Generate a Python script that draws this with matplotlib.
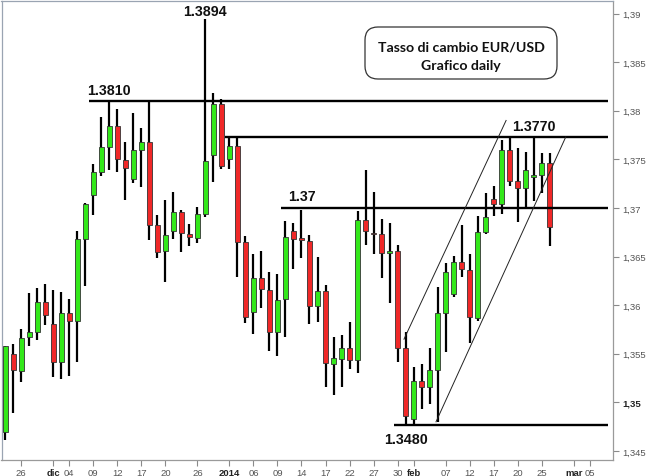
import matplotlib
matplotlib.use('Agg')
import matplotlib.pyplot as plt
import numpy as np
import pandas as pd
from matplotlib.patches import FancyBboxPatch
from matplotlib.transforms import IdentityTransform

# ---------------- data ----------------
dates = pd.bdate_range('2013-11-22', '2014-02-26')  # trading days (weekdays)

opens = [1.3470, 1.3550, 1.3532, 1.3567, 1.3572, 1.3603, 1.3581, 1.3542, 1.3592, 1.3584,
         1.3668, 1.3713, 1.3737, 1.3763, 1.3784, 1.3749, 1.3730, 1.3760, 1.3768, 1.3682,
         1.3656, 1.3676, 1.3696, 1.3673, 1.3669, 1.3694, 1.3754, 1.3807, 1.3750, 1.3764,
         1.3665, 1.3593, 1.3628, 1.3616, 1.3572, 1.3606, 1.3676, 1.3669, 1.3666, 1.3599,
         1.3615, 1.3539, 1.3545, 1.3556, 1.3544, 1.3688, 1.3674, 1.3673, 1.3654, 1.3656,
         1.3556, 1.3483, 1.3522, 1.3516, 1.3533, 1.3592, 1.3611, 1.3644, 1.3636, 1.3587,
         1.3675, 1.3709, 1.3704, 1.3760, 1.3728, 1.3721, 1.3732, 1.3734, 1.3746]
highs = [1.3558, 1.3560, 1.3575, 1.3612, 1.3618, 1.3622, 1.3616, 1.3614, 1.3606, 1.3676,
         1.3705, 1.3745, 1.3794, 1.3809, 1.3802, 1.3768, 1.3798, 1.3782, 1.3811, 1.3693,
         1.3708, 1.3716, 1.3698, 1.3683, 1.3701, 1.3894, 1.3818, 1.3812, 1.3773, 1.3773,
         1.3671, 1.3653, 1.3656, 1.3634, 1.3632, 1.3687, 1.3685, 1.3698, 1.3672, 1.3650,
         1.3621, 1.3567, 1.3569, 1.3583, 1.3697, 1.3739, 1.3716, 1.3689, 1.3685, 1.3662,
         1.3572, 1.3536, 1.3539, 1.3556, 1.3619, 1.3643, 1.3651, 1.3682, 1.3653, 1.3692,
         1.3715, 1.3723, 1.3770, 1.3773, 1.3762, 1.3758, 1.3773, 1.3757, 1.3757]
lows = [1.3461, 1.3489, 1.3521, 1.3558, 1.3564, 1.3580, 1.3526, 1.3524, 1.3527, 1.3542,
        1.3620, 1.3693, 1.3733, 1.3739, 1.3737, 1.3708, 1.3726, 1.3722, 1.3667, 1.3649,
        1.3624, 1.3668, 1.3655, 1.3661, 1.3664, 1.3691, 1.3727, 1.3740, 1.3740, 1.3629,
        1.3582, 1.3570, 1.3597, 1.3553, 1.3548, 1.3567, 1.3637, 1.3648, 1.3581, 1.3583,
        1.3516, 1.3508, 1.3516, 1.3534, 1.3530, 1.3662, 1.3653, 1.3628, 1.3602, 1.3542,
        1.3478, 1.3478, 1.3493, 1.3498, 1.3480, 1.3552, 1.3608, 1.3629, 1.3561, 1.3584,
        1.3673, 1.3692, 1.3694, 1.3723, 1.3686, 1.3701, 1.3707, 1.3715, 1.3661]
closes = [1.3558, 1.3533, 1.3566, 1.3572, 1.3603, 1.3590, 1.3542, 1.3592, 1.3584, 1.3668,
          1.3704, 1.3737, 1.3763, 1.3784, 1.3750, 1.3741, 1.3760, 1.3768, 1.3682, 1.3655,
          1.3672, 1.3696, 1.3674, 1.3670, 1.3694, 1.3748, 1.3807, 1.3743, 1.3764, 1.3665,
          1.3588, 1.3628, 1.3617, 1.3572, 1.3605, 1.3670, 1.3668, 1.3667, 1.3599, 1.3615,
          1.3541, 1.3546, 1.3556, 1.3544, 1.3688, 1.3676, 1.3673, 1.3654, 1.3656, 1.3556,
          1.3486, 1.3522, 1.3516, 1.3533, 1.3592, 1.3634, 1.3644, 1.3637, 1.3588, 1.3675,
          1.3691, 1.3704, 1.3760, 1.3728, 1.3721, 1.3739, 1.3734, 1.3746, 1.3680]

# x-axis tick dates and labels (Italian)
tick_dates = ['2013-11-26', '2013-12-02', '2013-12-04', '2013-12-09', '2013-12-12',
              '2013-12-17', '2013-12-20', '2013-12-26', '2014-01-01', '2014-01-06',
              '2014-01-09', '2014-01-14', '2014-01-17', '2014-01-22', '2014-01-27',
              '2014-01-30', '2014-02-03', '2014-02-07', '2014-02-12', '2014-02-17',
              '2014-02-20', '2014-02-25', '2014-03-03', '2014-03-05']
tick_labels = ['26', 'dic', '04', '09', '12', '17', '20', '26', '2014', '06', '09', '14',
               '17', '22', '27', '30', 'feb', '07', '12', '17', '20', '25', 'mar', '05']
bold_labels = ['dic', '2014', 'feb', 'mar']

y_ticks = [1.345, 1.35, 1.355, 1.36, 1.365, 1.37, 1.375, 1.38, 1.385, 1.39]

# support / resistance levels and the day each line starts
levels = [1.3810, 1.3773, 1.3700, 1.3477]
level_start = ['2013-12-09', '2014-01-01', '2014-01-10', '2014-01-30']
# trend channel lines: (date, fraction of day, price)
channel_upper = [('2014-01-30', 0.8, 1.3565), ('2014-02-18', 0.55, 1.3790)]
channel_lower = [('2014-02-05', 0.8, 1.3480), ('2014-02-28', 0.0, 1.3773)]

# annotations: (text, date, price)
notes = [('1.3894', '2013-12-27', 1.3903), ('1.3810', '2013-12-11', 1.3821),
         ('1.37', '2014-01-14', 1.3712), ('1.3770', '2014-02-24', 1.3784),
         ('1.3480', '2014-01-31', 1.3462)]

# ---------------- helpers ----------------
all_days = pd.bdate_range('2013-11-22', '2014-03-14')
def xpos(d):
    return float(all_days.get_loc(pd.Timestamp(d)))

x = np.arange(len(dates))

# ---------------- figure ----------------
W, H = 650, 477
fig = plt.figure(figsize=(W / 100, H / 100), dpi=100)
fig.patch.set_facecolor('white')
ax = fig.add_axes([1.5 / W, 16 / H, 611.5 / W, 459.5 / H])
ax.set_facecolor('white')

green = '#33E81A'
red = '#F02828'
for i in range(len(x)):
    o, h, l, c = opens[i], highs[i], lows[i], closes[i]
    ax.vlines(x[i], l, h, color='black', lw=1.6, zorder=2)
    col = green if c >= o else red
    ax.bar(x[i], abs(c - o), bottom=min(o, c), width=0.64, color=col,
           edgecolor='#333333', linewidth=0.6, zorder=3)

xmax = 75.3
for lv, st in zip(levels, level_start):
    ax.hlines(lv, xpos(st) - 0.5, xmax, color='black', lw=1.7, zorder=4)

for line in (channel_upper, channel_lower):
    xs = [xpos(d) + f for d, f, _ in line]
    ys = [p for _, _, p in line]
    ax.plot(xs, ys, color='#222222', lw=0.7, zorder=5)

for txt, d, p in notes:
    ax.text(xpos(d), p, txt, ha='center', va='center', fontsize=10.3,
            fontweight='bold', family='Liberation Sans', color='#111111', zorder=6)

ax.set_xlim(-0.46, 75.9)
ax.set_ylim(1.34407, 1.39134)

ax.yaxis.tick_right()
ax.set_yticks(y_ticks)
ylabs = [f"{v:.3f}".rstrip('0').replace('.', ',') for v in y_ticks]
ax.set_yticklabels(ylabs)
ax.set_xticks([xpos(d) for d in tick_dates])
ax.set_xticklabels(tick_labels)

ax.tick_params(axis='both', direction='out', length=4, width=0.8, color='#8a8a8a',
               labelsize=6.8, labelcolor='#555555')
ax.tick_params(axis='y', pad=2.5)
ax.tick_params(axis='x', pad=1.5)
for t in ax.get_xticklabels() + ax.get_yticklabels():
    t.set_family('Liberation Sans')
    if t.get_text() in bold_labels or t.get_text() == '1,35':
        t.set_fontweight('bold')
        t.set_color('#222222')

for s in ['left', 'top']:
    ax.spines[s].set_color('#9aa4b2')
for s in ['right', 'bottom']:
    ax.spines[s].set_color('#9a9a9a')
for s in ax.spines.values():
    s.set_linewidth(0.9)

# title box
box = FancyBboxPatch((365, H - 80), 192, 52,
                     boxstyle='round,pad=0,rounding_size=13',
                     transform=IdentityTransform(), facecolor='white',
                     edgecolor='#333333', linewidth=0.9, zorder=10)
fig.add_artist(box)
fig.text(461 / W, 1 - 47 / H, 'Tasso di cambio EUR/USD', ha='center', va='center',
         fontsize=10.2, fontweight='bold', family='Lato', color='#111111', zorder=11)
fig.text(461 / W, 1 - 66 / H, 'Grafico daily', ha='center', va='center',
         fontsize=10.2, fontweight='bold', family='Lato', color='#111111', zorder=11)

fig.savefig('out.png', dpi=100, facecolor='white')
